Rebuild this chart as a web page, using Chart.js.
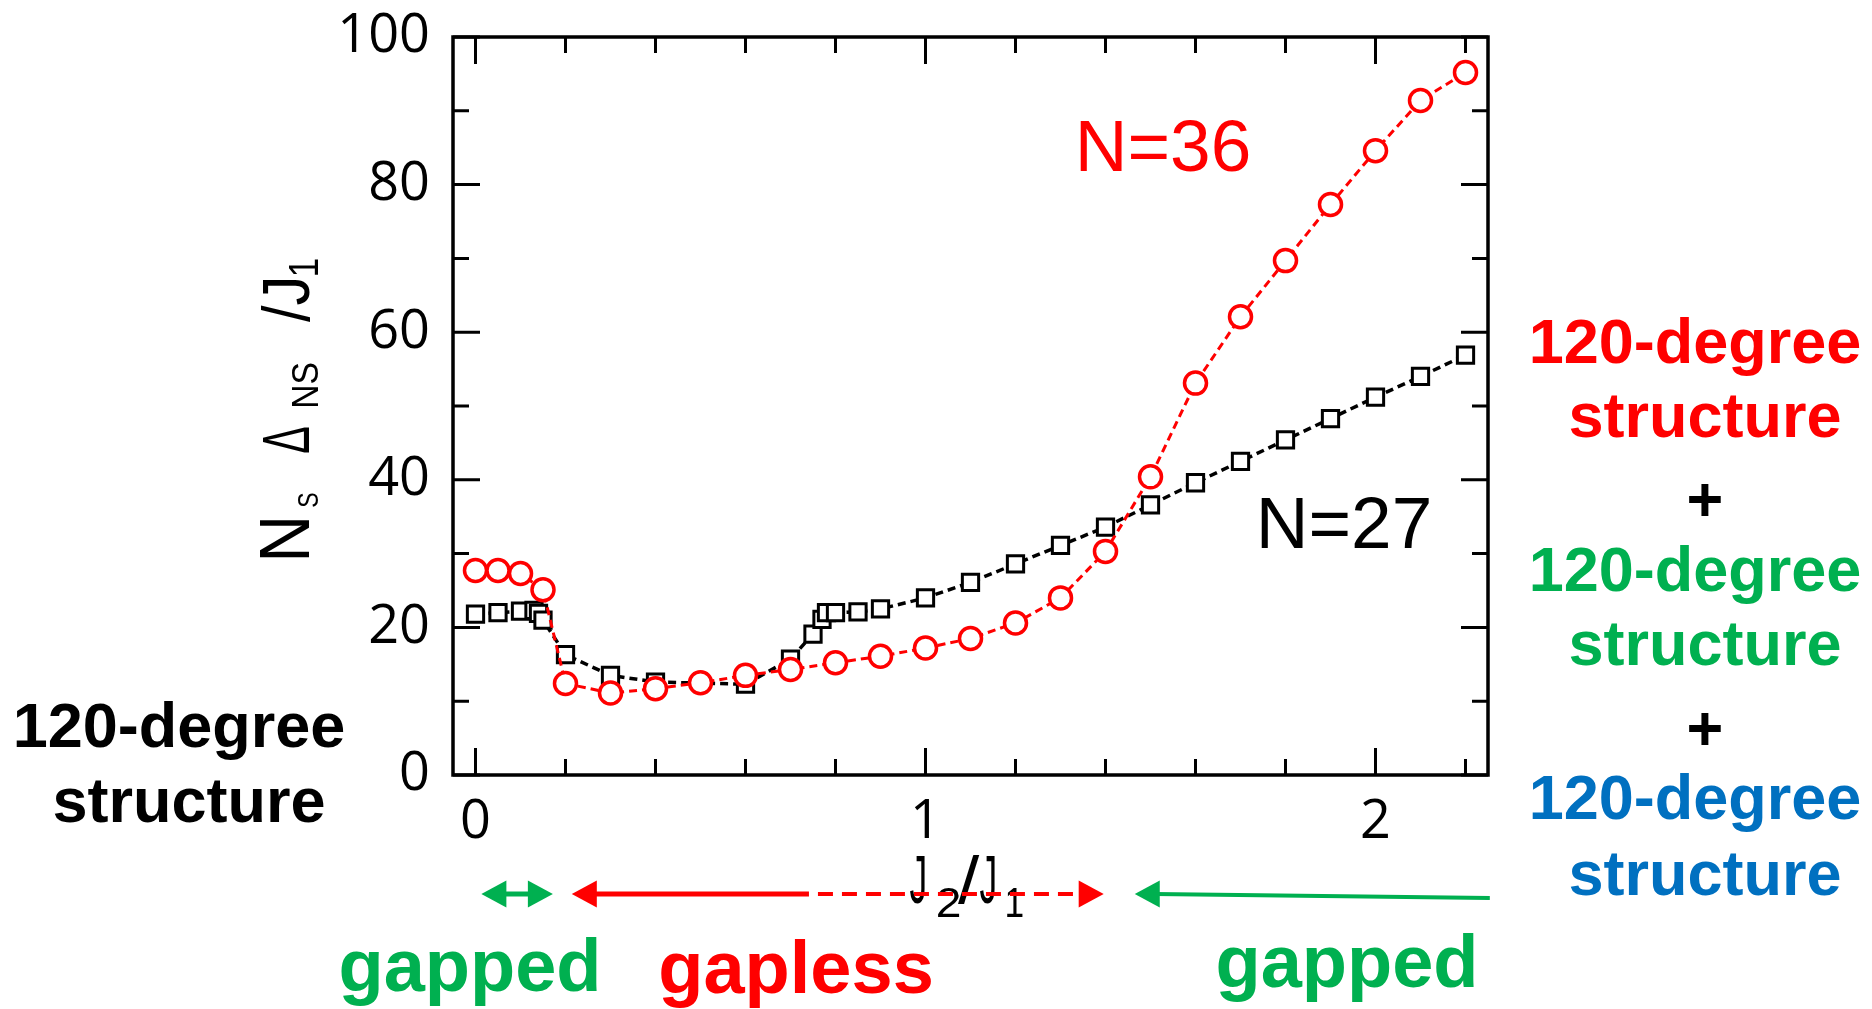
<!DOCTYPE html>
<html>
<head>
<meta charset="utf-8">
<script src="https://cdn.jsdelivr.net/npm/chart.js@4.4.1/dist/chart.umd.min.js"></script>
<style>
  html, body { margin: 0; padding: 0; background: #fff; }
  #chart { display: block; }
</style>
</head>
<body>
<canvas id="chart" width="1872" height="1009"></canvas>
<script>
/** Data: J2/J1 and Ns*Delta_Ns/J1 */
const j2N36 = [0, 0.05, 0.1, 0.15, 0.2, 0.3, 0.4, 0.5, 0.6, 0.7, 0.8, 0.9, 1.0, 1.1, 1.2, 1.3, 1.4, 1.5, 1.6, 1.7, 1.8, 1.9, 2.0, 2.1, 2.2];
const gapN36 = [27.7, 27.7, 27.3, 25.1, 12.4, 11.1, 11.7, 12.5, 13.5, 14.3, 15.2, 16.1, 17.2, 18.5, 20.6, 24.0, 30.3, 40.4, 53.1, 62.1, 69.7, 77.3, 84.6, 91.4, 95.2];

const j2N27 = [0, 0.05, 0.1, 0.13, 0.14, 0.15, 0.2, 0.3, 0.4, 0.6, 0.7, 0.75, 0.77, 0.78, 0.8, 0.85, 0.9, 1.0, 1.1, 1.2, 1.3, 1.4, 1.5, 1.6, 1.7, 1.8, 1.9, 2.0, 2.1, 2.2];
const gapN27 = [21.8, 22.0, 22.2, 22.3, 21.9, 21.0, 16.3, 13.5, 12.6, 12.3, 15.7, 19.1, 21.1, 22.0, 22.0, 22.1, 22.5, 24.0, 26.1, 28.6, 31.1, 33.6, 36.6, 39.6, 42.5, 45.4, 48.3, 51.2, 54.0, 56.9];

const xTickValues = [0, 0.2, 0.4, 0.6, 0.8, 1.0, 1.2, 1.4, 1.6, 1.8, 2.0, 2.2];
const xTickLabels = ['0', '', '', '', '', '1', '', '', '', '', '2', ''];
const yTickValues = [0, 10, 20, 30, 40, 50, 60, 70, 80, 90, 100];
const yTickLabels = ['0', '', '20', '', '40', '', '60', '', '80', '', '100'];

// phase ranges along J2/J1 for the arrows under the axis
const gappedLow = [0.013, 0.172];
const gaplessRange = [0.214, 0.741, 1.396];   // start, end of solid part, end
const gappedHigh = [1.465, 2.254];

const RED = '#ff0000';
const GREEN = '#00b050';
const BLUE = '#0070c0';
const FAM = '"Liberation Sans", Arial, sans-serif';

// draws text so its ink fills x0..x1 and rises h above the baseline
function fitInk(ctx, s, x0, x1, baseline, h, font) {
    ctx.font = font;
    ctx.textAlign = 'left';
    ctx.textBaseline = 'alphabetic';
    const m = ctx.measureText(s);
    const inkW = m.actualBoundingBoxLeft + m.actualBoundingBoxRight;
    const kx = (x1 - x0) / inkW;
    const ky = h / m.actualBoundingBoxAscent;
    ctx.save();
    ctx.translate(x0, baseline);
    ctx.scale(kx, ky);
    ctx.fillText(s, m.actualBoundingBoxLeft, 0);
    ctx.restore();
}

function centerText(ctx, s, x, y, font, color) {
    ctx.font = font;
    ctx.fillStyle = color;
    ctx.textAlign = 'center';
    ctx.textBaseline = 'alphabetic';
    ctx.fillText(s, x, y);
}

function arrowHead(ctx, tipX, y, dir, color) {
    const len = 25, half = 13.5;
    ctx.fillStyle = color;
    ctx.beginPath();
    ctx.moveTo(tipX, y);
    ctx.lineTo(tipX - dir * len, y - half);
    ctx.lineTo(tipX - dir * len, y + half);
    ctx.closePath();
    ctx.fill();
}

const framePlugin = {
    id: 'frame',
    afterDatasetsDraw(chart) {
        const {ctx, chartArea: a, scales: {x, y}} = chart;
        ctx.save();
        ctx.strokeStyle = '#000';
        ctx.lineWidth = 3;
        ctx.beginPath();
        x.ticks.forEach((t, i) => {
            const px = x.getPixelForValue(t.value);
            const len = xTickLabels[i] ? 27 : 16;
            ctx.moveTo(px, a.bottom); ctx.lineTo(px, a.bottom - len);
            ctx.moveTo(px, a.top); ctx.lineTo(px, a.top + len);
        });
        y.ticks.forEach((t, i) => {
            const py = y.getPixelForValue(t.value);
            const len = yTickLabels[i] ? 27 : 16;
            ctx.moveTo(a.left, py); ctx.lineTo(a.left + len, py);
            ctx.moveTo(a.right, py); ctx.lineTo(a.right - len, py);
        });
        ctx.stroke();
        ctx.lineWidth = 3.5;
        ctx.strokeRect(a.left, a.top, a.right - a.left, a.bottom - a.top);
        ctx.restore();
    }
};

const labelsPlugin = {
    id: 'labels',
    afterDraw(chart) {
        const {ctx, scales: {x}} = chart;
        ctx.save();
        ctx.fillStyle = '#000';

        // y axis title, rotated: N_S  Δ_NS  /J_1
        ctx.save();
        ctx.translate(309, 558);
        ctx.rotate(-Math.PI / 2);
        fitInk(ctx, 'N', 0, 38, 0, 49, '68px ' + FAM);
        fitInk(ctx, 'S', 51, 65, 9, 20, '28px ' + FAM);
        fitInk(ctx, '\u0394', 105, 131, 0, 45, '62px ' + FAM);
        fitInk(ctx, 'NS', 151, 195, 9, 26, '36px ' + FAM);
        fitInk(ctx, '/J', 236, 278, 0, 49, '68px ' + FAM);
        fitInk(ctx, '1', 283, 299, 9, 30, '42px ' + FAM);
        ctx.restore();

        // x axis title J_2/J_1
        fitInk(ctx, 'J', 910, 925, 903, 48, '66px ' + FAM);
        fitInk(ctx, '2', 938, 960, 917, 30, '42px ' + FAM);
        fitInk(ctx, '/', 958, 980, 903, 48, '66px ' + FAM);
        fitInk(ctx, 'J', 980, 995, 903, 48, '66px ' + FAM);
        fitInk(ctx, '1', 1007, 1023, 917, 30, '42px ' + FAM);

        // phase arrows
        const ay = 894;
        const gx0 = x.getPixelForValue(gappedLow[0]);
        const gx1 = x.getPixelForValue(gappedLow[1]);
        arrowHead(ctx, gx0, ay, -1, GREEN);
        arrowHead(ctx, gx1, ay, 1, GREEN);
        ctx.strokeStyle = GREEN;
        ctx.lineWidth = 5;
        ctx.beginPath();
        ctx.moveTo(gx0 + 20, ay); ctx.lineTo(gx1 - 20, ay);
        ctx.stroke();

        const rx0 = x.getPixelForValue(gaplessRange[0]);
        const rxm = x.getPixelForValue(gaplessRange[1]);
        const rx1 = x.getPixelForValue(gaplessRange[2]);
        arrowHead(ctx, rx0, ay, -1, RED);
        arrowHead(ctx, rx1, ay, 1, RED);
        ctx.strokeStyle = RED;
        ctx.lineWidth = 5;
        ctx.beginPath();
        ctx.moveTo(rx0 + 20, ay); ctx.lineTo(rxm, ay);
        ctx.stroke();
        ctx.lineWidth = 4;
        ctx.setLineDash([15, 9]);
        ctx.beginPath();
        ctx.moveTo(rxm + 9, ay); ctx.lineTo(rx1 - 22, ay);
        ctx.stroke();
        ctx.setLineDash([]);

        const hx0 = x.getPixelForValue(gappedHigh[0]);
        const hx1 = x.getPixelForValue(gappedHigh[1]);
        arrowHead(ctx, hx0, ay, -1, GREEN);
        ctx.strokeStyle = GREEN;
        ctx.lineWidth = 4;
        ctx.beginPath();
        ctx.moveTo(hx0 + 20, ay); ctx.lineTo(hx1, ay + 4);
        ctx.stroke();

        // series labels
        centerText(ctx, 'N=36', 1163, 171, '73px ' + FAM, RED);
        centerText(ctx, 'N=27', 1344, 548, '73px ' + FAM, '#000');

        // structure annotations
        const bold = 'bold 63px ' + FAM;
        centerText(ctx, '120-degree', 179, 747, bold, '#000');
        centerText(ctx, 'structure', 189, 822, bold, '#000');

        centerText(ctx, '120-degree', 1695, 363, bold, RED);
        centerText(ctx, 'structure', 1705, 437, bold, RED);
        centerText(ctx, '+', 1705, 521, bold, '#000');
        centerText(ctx, '120-degree', 1695, 591, bold, GREEN);
        centerText(ctx, 'structure', 1705, 665, bold, GREEN);
        centerText(ctx, '+', 1705, 750, bold, '#000');
        centerText(ctx, '120-degree', 1695, 819, bold, BLUE);
        centerText(ctx, 'structure', 1705, 895, bold, BLUE);

        // phase names
        const big = 'bold 74px ' + FAM;
        centerText(ctx, 'gapped', 470, 991, big, GREEN);
        centerText(ctx, 'gapless', 796, 993, big, RED);
        centerText(ctx, 'gapped', 1347, 987, big, GREEN);

        ctx.restore();
    }
};

const chart = new Chart(document.getElementById('chart'), {
    type: 'scatter',
    data: {
        datasets: [{
            label: 'N=36',
            data: j2N36.map((v, i) => ({x: v, y: gapN36[i]})),
            showLine: true,
            borderColor: RED,
            borderWidth: 3,
            borderDash: [8, 5],
            pointStyle: 'circle',
            pointRadius: 11,
            pointBorderWidth: 3.5,
            pointBorderColor: RED,
            pointBackgroundColor: '#fff'
        }, {
            label: 'N=27',
            data: j2N27.map((v, i) => ({x: v, y: gapN27[i]})),
            showLine: true,
            borderColor: '#000',
            borderWidth: 3.5,
            borderDash: [8, 5],
            pointStyle: 'rect',
            pointRadius: 11.5,
            pointBorderWidth: 3,
            pointBorderColor: '#000',
            pointBackgroundColor: '#fff'
        }]
    },
    options: {
        responsive: false,
        animation: false,
        layout: {autoPadding: false, padding: {left: 0, right: 384, top: 37, bottom: 0}},
        elements: {line: {tension: 0}},
        plugins: {
            legend: {display: false},
            tooltip: {enabled: false}
        },
        scales: {
            x: {
                type: 'linear',
                min: -0.05,
                max: 2.25,
                afterBuildTicks: (scale) => { scale.ticks = xTickValues.map(v => ({value: v})); },
                afterFit: (scale) => {
                    scale.height = 234;
                    scale.paddingLeft = 0;
                    scale.paddingRight = 0;
                },
                grid: {display: false, drawTicks: false},
                border: {display: false},
                ticks: {
                    autoSkip: false,
                    maxRotation: 0,
                    padding: 15,
                    color: '#000',
                    font: {family: 'Open Sans', size: 54},
                    callback: (value, index) => xTickLabels[index]
                }
            },
            y: {
                min: 0,
                max: 100,
                afterBuildTicks: (scale) => { scale.ticks = yTickValues.map(v => ({value: v})); },
                afterFit: (scale) => {
                    scale.width = 453;
                    scale.paddingTop = 0;
                    scale.paddingBottom = 0;
                },
                grid: {display: false, drawTicks: false},
                border: {display: false},
                ticks: {
                    autoSkip: false,
                    padding: 23,
                    color: '#000',
                    font: {family: 'Open Sans', size: 54},
                    callback: (value, index) => yTickLabels[index]
                }
            }
        }
    },
    plugins: [framePlugin, labelsPlugin]
});
</script>
</body>
</html>
